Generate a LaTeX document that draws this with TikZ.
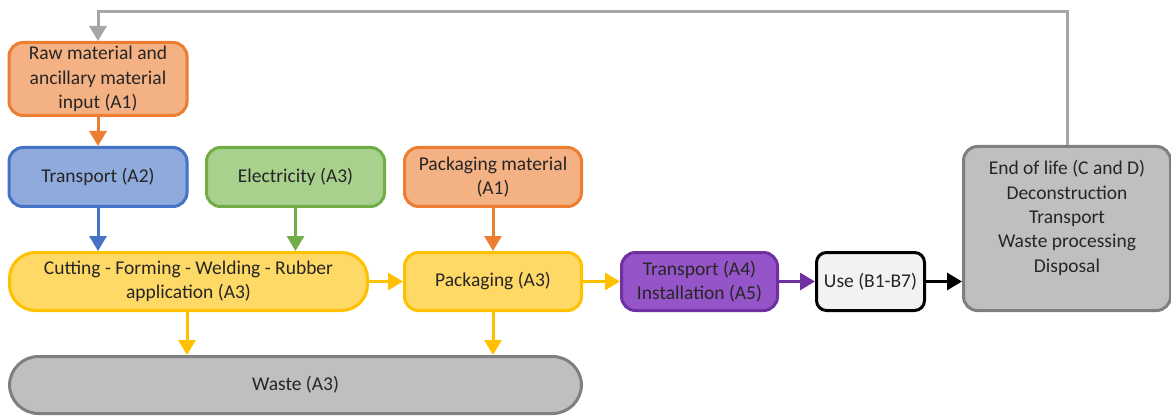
\documentclass[tikz,border=0pt]{standalone}
\usepackage{fontspec}
\setmainfont{Carlito}
\usetikzlibrary{arrows.meta}
\definecolor{txt}{HTML}{262626}
\definecolor{orF}{HTML}{F4B183}\definecolor{orD}{HTML}{ED7D31}
\definecolor{blF}{HTML}{8FAADC}\definecolor{blD}{HTML}{4472C4}
\definecolor{grF}{HTML}{A9D18E}\definecolor{grD}{HTML}{70AD47}
\definecolor{yeF}{HTML}{FFD966}\definecolor{yeD}{HTML}{FFC000}
\definecolor{puF}{HTML}{9555C8}\definecolor{puD}{HTML}{7030A0}
\definecolor{gyF}{HTML}{BFBFBF}\definecolor{gyD}{HTML}{7F7F7F}
\definecolor{usF}{HTML}{F2F2F2}
\definecolor{fbC}{HTML}{A6A6A6}
\tikzset{
  box/.style={draw, line width=3pt, rounded corners=14pt, align=center, text=txt,
    font=\fontsize{19.5}{24.3}\selectfont, inner sep=2pt},
  con/.style={line width=3pt, -{Triangle[length=15pt,width=17pt]}},
}
\begin{document}
\begin{tikzpicture}[x=1pt,y=-1pt]
\useasboundingbox (0,0) rectangle (1171,417);
\node[box, fill=orF, draw=orD, minimum width=178pt, minimum height=73pt] (raw) at (98,79) {Raw material and\\ancillary material\\input (A1)};
\node[box, fill=blF, draw=blD, minimum width=178pt, minimum height=59pt] (tr2) at (98,177) {Transport (A2)};
\node[box, fill=grF, draw=grD, minimum width=178pt, minimum height=59pt] (ele) at (295.5,177) {Electricity (A3)};
\node[box, fill=orF, draw=orD, minimum width=177pt, minimum height=59pt] (pm) at (493,177) {Packaging material\\(A1)};
\node[box, fill=yeF, draw=yeD, rounded corners=26pt, minimum width=358pt, minimum height=58pt] (cut) at (188.5,281.5) {Cutting - Forming - Welding - Rubber\\application (A3)};
\node[box, fill=yeF, draw=yeD, minimum width=177pt, minimum height=58pt] (pack) at (493,281.5) {Packaging (A3)};
\node[box, fill=puF, draw=puD, minimum width=156pt, minimum height=58pt] (tr4) at (699.5,281.5) {Transport (A4)\\Installation (A5)};
\node[box, fill=usF, draw=black, rounded corners=10pt, minimum width=108pt, minimum height=58pt] (use) at (870.5,281.5) {Use (B1-B7)};
\node[box, fill=gyF, draw=gyD, minimum width=207pt, minimum height=164pt] (eol) at (1067,228.5) {};
\node[align=center, text=txt, font=\fontsize{19.5}{24.3}\selectfont] (eoltext) at (1067,218) {End of life (C and D)\\Deconstruction\\Transport\\Waste processing\\Disposal};
\node[box, fill=gyF, draw=gyD, rounded corners=29pt, minimum width=572pt, minimum height=57pt] (waste) at (295.5,385) {Waste (A3)};
\coordinate (fb) at (1067,12);
\draw[con, fbC] (eol.north) -- (fb) -| (raw.north);
\draw[con, orD] (raw) -- (tr2);
\draw[con, blD] (tr2) -- (tr2 |- cut.north);
\draw[con, grD] (ele) -- (ele |- cut.north);
\draw[con, orD] (pm) -- (pack);
\draw[con, yeD] (cut) -- (pack);
\draw[con, yeD] (pack) -- (tr4);
\draw[con, puD] (tr4) -- (use);
\draw[con, black] (use) -- (use -| eol.west);
\coordinate (w1) at (187,355);
\coordinate (w2) at (493,355);
\draw[con, yeD] (w1 |- cut.south) -- (w1);
\draw[con, yeD] (pack.south) -- (w2);
\end{tikzpicture}
\end{document}
